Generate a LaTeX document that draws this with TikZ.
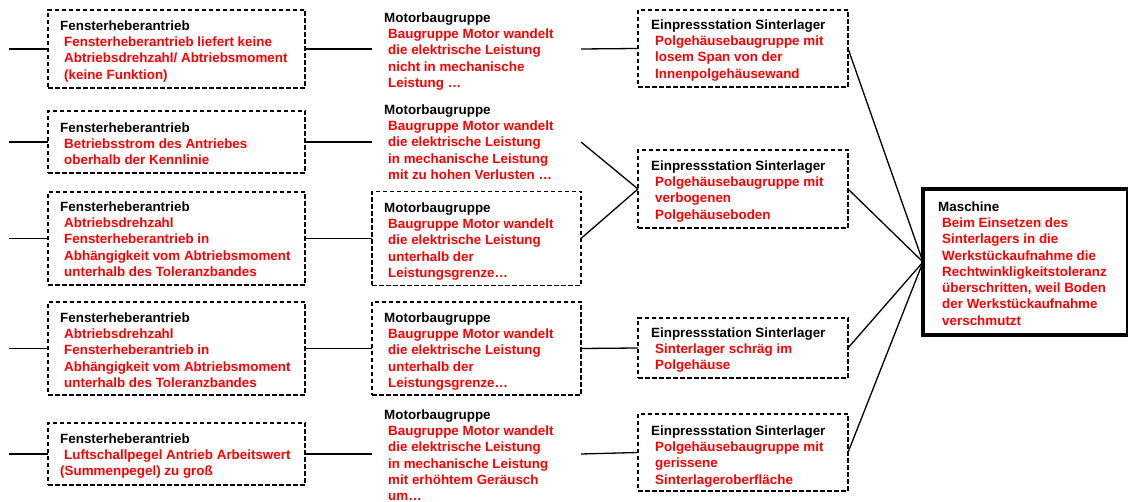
\documentclass[tikz,border=0pt]{standalone}
\usepackage{fontspec}
\setmainfont{Liberation Sans}
\newcommand\boxhead[1]{\hspace*{-4pt}\textcolor{black}{#1}}
\begin{document}
\begin{tikzpicture}[x=1pt,y=-1pt,
  dbox/.style={draw, dash pattern=on 4.5pt off 2.5pt, line width=1.3pt, anchor=north west, inner sep=0pt, outer sep=0pt},
  hbox/.style={anchor=north west, inner sep=0pt, outer sep=0pt},
  mbox/.style={draw, line width=3.3pt, anchor=north west, inner sep=0pt, outer sep=0pt},
  txt/.style={anchor=north west, inner sep=0pt, align=left, text=red,
              font=\bfseries\fontsize{13.4}{16.3}\selectfont},
  link/.style={line width=1.3pt}]
\useasboundingbox (0,0) rectangle (1128,502);

% ---- Fensterheberantrieb column
\node[dbox, minimum width=257pt, minimum height=78pt] (L1) at (48,10) {};
\node[dbox, minimum width=257pt, minimum height=62pt] (L2) at (48,111) {};
\node[dbox, minimum width=257pt, minimum height=93pt] (L3) at (48,192) {};
\node[dbox, minimum width=257pt, minimum height=93pt] (L4) at (48,302) {};
\node[dbox, minimum width=257pt, minimum height=62pt] (L5) at (48,423) {};

\node[txt] (L1t) at (64,20.2) {\boxhead{Fensterheberantrieb}\\Fensterheberantrieb liefert keine\\Abtriebsdrehzahl/ Abtriebsmoment\\(keine Funktion)};
\node[txt] (L2t) at (64,122.2) {\boxhead{Fensterheberantrieb}\\Betriebsstrom des Antriebes\\oberhalb der Kennlinie};
\node[txt] (L3t) at (64,201.2) {\boxhead{Fensterheberantrieb}\\Abtriebsdrehzahl\\Fensterheberantrieb in\\Abhängigkeit vom Abtriebsmoment\\unterhalb des Toleranzbandes};
\node[txt] (L4t) at (64,312.2) {\boxhead{Fensterheberantrieb}\\Abtriebsdrehzahl\\Fensterheberantrieb in\\Abhängigkeit vom Abtriebsmoment\\unterhalb des Toleranzbandes};
\node[txt] (L5t) at (64,433.2) {\boxhead{Fensterheberantrieb}\\Luftschallpegel Antrieb Arbeitswert\\\hspace*{-4pt}(Summenpegel) zu groß};

% ---- Motorbaugruppe column
\node[hbox, minimum width=209pt, minimum height=78pt] (M1) at (372,10) {};
\node[hbox, minimum width=209pt, minimum height=62pt] (M2) at (372,111) {};
\node[dbox, minimum width=209pt, minimum height=94pt] (M3) at (372,191.5) {};
\node[dbox, minimum width=209pt, minimum height=93pt] (M4) at (372,302) {};
\node[hbox, minimum width=209pt, minimum height=62pt] (M5) at (372,423) {};

\node[txt] (M1t) at (388,12.2) {\boxhead{Motorbaugruppe}\\Baugruppe Motor wandelt\\die elektrische Leistung\\nicht in mechanische\\Leistung …};
\node[txt] (M2t) at (388,104.2) {\boxhead{Motorbaugruppe}\\Baugruppe Motor wandelt\\die elektrische Leistung\\in mechanische Leistung\\mit zu hohen Verlusten …};
\node[txt] (M3t) at (388,202.2) {\boxhead{Motorbaugruppe}\\Baugruppe Motor wandelt\\die elektrische Leistung\\unterhalb der\\Leistungsgrenze…};
\node[txt] (M4t) at (388,312.2) {\boxhead{Motorbaugruppe}\\Baugruppe Motor wandelt\\die elektrische Leistung\\unterhalb der\\Leistungsgrenze…};
\node[txt] (M5t) at (388,409.2) {\boxhead{Motorbaugruppe}\\Baugruppe Motor wandelt\\die elektrische Leistung\\in mechanische Leistung\\mit erhöhtem Geräusch\\um…};

% ---- Einpressstation column
\node[dbox, minimum width=210pt, minimum height=77pt] (R1) at (638,10) {};
\node[dbox, minimum width=210pt, minimum height=78pt] (R2) at (638,150) {};
\node[dbox, minimum width=210pt, minimum height=60pt] (R3) at (638,318) {};
\node[dbox, minimum width=210pt, minimum height=77pt] (R4) at (638,414) {};

\node[txt] (R1t) at (655,19.2) {\boxhead{Einpressstation Sinterlager}\\Polgehäusebaugruppe mit\\losem Span von der\\Innenpolgehäusewand};
\node[txt] (R2t) at (655,160.2) {\boxhead{Einpressstation Sinterlager}\\Polgehäusebaugruppe mit\\verbogenen\\Polgehäuseboden};
\node[txt] (R3t) at (655,327.2) {\boxhead{Einpressstation Sinterlager}\\Sinterlager schräg im\\Polgehäuse};
\node[txt] (R4t) at (655,425.2) {\boxhead{Einpressstation Sinterlager}\\Polgehäusebaugruppe mit\\gerissene\\Sinterlageroberfläche};

% ---- Maschine
\node[mbox, minimum width=205pt, minimum height=146pt] (MA) at (923,189) {};
\node[txt] (MAt) at (942,201.2) {\boxhead{Maschine}\\Beim Einsetzen des\\Sinterlagers in die\\Werkstückaufnahme die\\Rechtwinkligkeitstoleranz\\überschritten, weil Boden\\der Werkstückaufnahme\\verschmutzt};

% ---- connectors
\coordinate (lx) at (9,0);
\foreach \i in {1,...,5} {
  \coordinate (e\i) at (L\i.west -| lx);
  \draw[link] (e\i) -- (L\i.west);
  \draw[link] (L\i.east) -- (M\i.west);
}
\draw[link] (M1.east) -- (R1.west);
\draw[link] (M2.east) -- (R2.west);
\draw[link] (M3.east) -- (R2.west);
\draw[link] (M4.east) -- (R3.west);
\draw[link] (M5.east) -- (R4.west);
\foreach \i in {1,...,4} {
  \draw[link] (R\i.east) -- (MA.west);
}
\end{tikzpicture}
\end{document}
